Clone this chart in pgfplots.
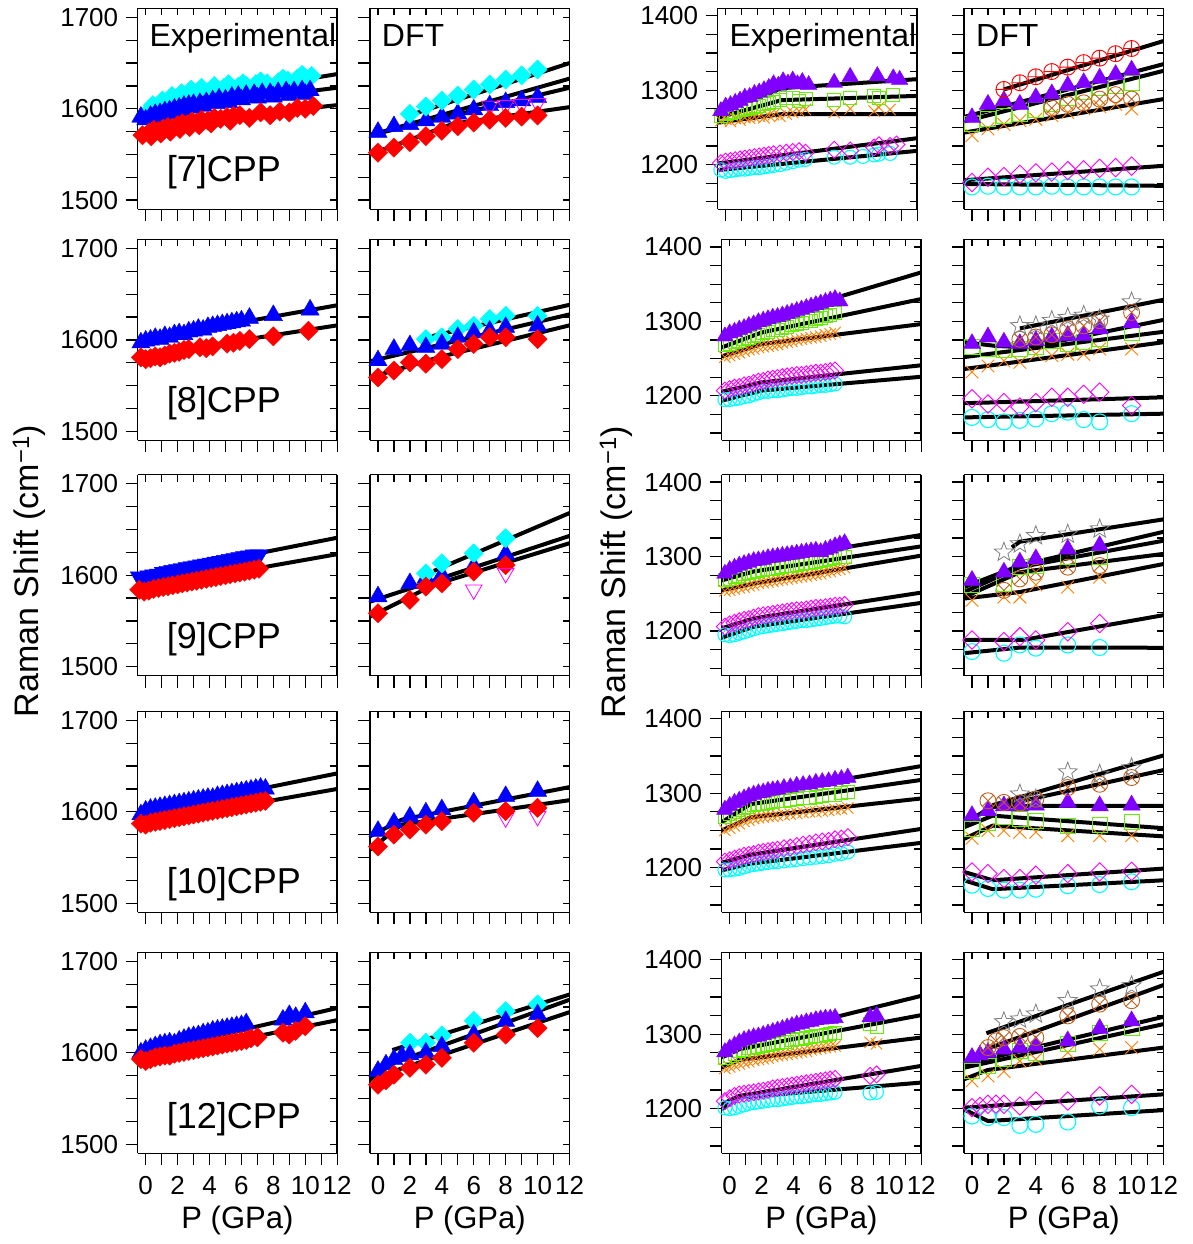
\documentclass[border=0pt]{standalone}
\usepackage{fontspec}
\setmainfont{Liberation Sans}
\usepackage{pgfplots}
\pgfplotsset{compat=1.18}
\usetikzlibrary{plotmarks}
\definecolor{cred}{RGB}{255,0,0}
\definecolor{cblue}{RGB}{0,0,255}
\definecolor{ccyan}{RGB}{0,255,255}
\definecolor{cmag}{RGB}{255,0,255}
\definecolor{cpur}{RGB}{128,0,255}
\definecolor{cgreen}{RGB}{100,240,0}
\definecolor{corange}{RGB}{255,128,0}
\definecolor{cbrown}{RGB}{192,96,32}
\definecolor{cgray}{RGB}{128,128,128}
\pgfdeclareplotmark{ostar}{%
  \pgfpathmoveto{\pgfpointpolar{90}{\pgfplotmarksize}}%
  \pgfpathlineto{\pgfpointpolar{126}{0.42\pgfplotmarksize}}%
  \pgfpathlineto{\pgfpointpolar{162}{\pgfplotmarksize}}%
  \pgfpathlineto{\pgfpointpolar{198}{0.42\pgfplotmarksize}}%
  \pgfpathlineto{\pgfpointpolar{234}{\pgfplotmarksize}}%
  \pgfpathlineto{\pgfpointpolar{270}{0.42\pgfplotmarksize}}%
  \pgfpathlineto{\pgfpointpolar{306}{\pgfplotmarksize}}%
  \pgfpathlineto{\pgfpointpolar{342}{0.42\pgfplotmarksize}}%
  \pgfpathlineto{\pgfpointpolar{18}{\pgfplotmarksize}}%
  \pgfpathlineto{\pgfpointpolar{54}{0.42\pgfplotmarksize}}%
  \pgfpathclose\pgfusepathqstroke}
\pgfplotsset{
  base/.style={scale only axis, width=199.5pt, height=201pt, anchor=south west,
    xmin=-0.5, xmax=12, axis line style={line width=1.5pt},
    tick style={black, line width=1.3pt},
    xtick={0,2,...,12}, minor xtick={1,3,...,11}},
  main/.style={base, axis x line*=bottom, axis y line*=left, tick align=outside,
    major tick length=12pt, minor tick length=12pt,
    xticklabels={}, yticklabels={},
    tick label style={font=\fontsize{26}{30}\selectfont},
    yticklabel style={xshift=-4pt}, xticklabel style={yshift=-8pt},
    /pgf/number format/assume math mode=true},
  mirrorax/.style={base, axis x line*=top, axis y line*=right, tick align=inside,
    major tick length=7pt, minor tick length=7pt, xticklabels={}, yticklabels={}},
  hi/.style={ymin=1490, ymax=1710, ytick={1500,1600,1700},
    minor ytick={1525,1550,1575,1625,1650,1675}},
  lo/.style={ymin=1140, ymax=1410, ytick={1200,1300,1400},
    minor ytick={1150,1175,1225,1250,1275,1325,1350,1375}},
  hiL/.style={hi, yticklabels={1500,1600,1700}},
  loL/.style={lo, yticklabels={1200,1300,1400}},
  bot/.style={xticklabels={0,2,4,6,8,10,12}, xlabel={P (GPa)},
    xlabel style={font=\fontsize{31}{36}\selectfont, at={(axis description cs:0.5,0)}, anchor=base, yshift=-75pt}},
  fit/.style={black, line width=4pt, line join=round, no markers},
  rD/.style={only marks, color=cred, mark=square*, mark size=6.8pt, mark options={rotate=45}},
  cD/.style={only marks, color=ccyan, mark=square*, mark size=6.8pt, mark options={rotate=45}},
  bT/.style={only marks, color=cblue, mark=triangle*, mark size=10.5pt},
  bV/.style={only marks, color=cblue, mark=triangle*, mark size=10.5pt, mark options={rotate=180}},
  mV/.style={only marks, color=cmag, mark=triangle, mark size=9.5pt, mark options={rotate=180, line width=0.8pt}},
  pT/.style={only marks, color=cpur, mark=triangle*, mark size=10pt},
  gS/.style={only marks, color=cgreen, mark=square, mark size=7.5pt, mark options={line width=0.9pt}},
  oX/.style={only marks, color=corange, mark=x, mark size=9pt, mark options={line width=0.9pt}},
  mD/.style={only marks, color=cmag, mark=square, mark size=6.5pt, mark options={rotate=45, line width=0.9pt}},
  cO/.style={only marks, color=ccyan, mark=o, mark size=8pt, mark options={line width=1.1pt}},
  rP/.style={only marks, color=cred, mark=oplus, mark size=8pt, mark options={line width=0.9pt}},
  bX/.style={only marks, color=cbrown, mark=otimes, mark size=8pt, mark options={line width=0.9pt}},
  sS/.style={only marks, color=cgray, mark=ostar, mark size=10pt, mark options={line width=0.8pt}},
  eP/.style={pT, mark size=9.5pt},
  eG/.style={gS, mark size=6.5pt},
  eX/.style={oX, mark size=8pt},
  eM/.style={mD, mark size=6pt},
  eC/.style={cO, mark size=7pt},
}
\newcommand{\mirror}[3]{\begin{axis}[mirrorax,#3,at={(#1,#2)}]\end{axis}}
\begin{document}
\begin{tikzpicture}
\useasboundingbox (0,0) rectangle (1193pt,1244pt);

% ================= ROW 1 : [7]CPP =================
\begin{axis}[main, hiL, at={(137.7pt,1034.7pt)}]
\addplot[cD] coordinates {(0.0,1594)(0.3,1598)(0.6,1601)(0.9,1603)(1.2,1606)(1.5,1608)(1.8,1611)(2.1,1612)(2.4,1614)(2.7,1616)(3.0,1617)(3.3,1619)(3.7,1618)(4.1,1621)(4.5,1620)(4.9,1623)(5.4,1622)(5.8,1624)(6.3,1625)(6.9,1627)(7.6,1628)(8.3,1629)(8.9,1631)(9.5,1633)(10.0,1634)(10.4,1636)};
\addplot[cD] coordinates {(0.45,1604)(1.05,1609)(1.65,1614)(2.25,1617)(2.85,1621)(3.5,1623)(4.3,1625)(5.2,1627)(6.1,1628)(7.2,1630)(8.6,1633)(9.8,1637)};
\addplot[bT] coordinates {(-0.3,1591)(0.0,1588)(0.3,1592)(0.6,1594)(0.9,1595)(1.2,1597)(1.5,1598)(1.8,1600)(2.1,1601)(2.4,1603)(2.7,1604)(3.0,1605)(3.4,1606)(3.8,1607)(4.2,1609)(4.6,1611)(5.0,1610)(5.4,1613)(5.8,1614)(6.3,1615)(6.8,1616)(7.3,1617)(7.8,1617)(8.3,1618)(8.8,1619)(9.3,1619)(9.8,1620)(10.3,1620)};
\addplot[bT] coordinates {(0.45,1590)(1.05,1593)(1.65,1595)(2.25,1598)(2.85,1601)(3.6,1603)(4.4,1606)(5.2,1607)(6.0,1610)(7.0,1612)(8.0,1613)(9.0,1615)(10.0,1616)};
\addplot[rD] coordinates {(-0.2,1571)(0.2,1574)(0.5,1577)(0.8,1576)(1.1,1578)(1.4,1580)(1.7,1579)(2.0,1582)(2.3,1584)(2.6,1583)(2.9,1586)(3.2,1585)(3.5,1588)(3.9,1587)(4.3,1590)(4.7,1589)(5.1,1591)(5.5,1592)(5.9,1593)(7.2,1596)(8.4,1597)(9.5,1601)(10.5,1603)};
\addplot[rD] coordinates {(0.35,1570)(0.95,1573)(1.55,1575)(2.15,1578)(2.75,1580)(3.35,1582)(4.1,1584)(5.3,1587)(6.5,1590)(7.8,1593)(9.0,1596)(10.0,1600)};
\addplot[fit] coordinates {(-0.5,1592)(3.4,1613)(12,1638)};
\addplot[fit] coordinates {(-0.5,1589)(3.5,1605)(12,1623)};
\addplot[fit] coordinates {(-0.5,1572)(3.5,1588)(12,1604)};
\end{axis}
\mirror{137.7pt}{1034.7pt}{hi}

\begin{axis}[main, hi, at={(370pt,1034.7pt)}]
\addplot[bT] coordinates {(0,1574.5)(1,1580.7)(2,1583)(3,1587)(4,1591)(5,1594.5)(6,1599)(7,1603.6)(8,1607)(9,1609)(10,1612.6)};
\addplot[cD] coordinates {(2,1594.5)(3,1602.5)(4,1609)(5,1614.5)(6,1621)(7,1626.6)(8,1632)(9,1636.6)(10,1643)};
\addplot[mV] coordinates {(7,1603)(8,1604)(9,1605)(10,1606)};
\addplot[rD] coordinates {(0,1552)(1,1557.5)(2,1563.6)(3,1570)(4,1576)(5,1581)(6,1585)(7,1588)(8,1590)(9,1591.5)(10,1592.7)};
\addplot[fit] coordinates {(2,1593)(12,1650)};
\addplot[fit] coordinates {(-0.5,1571)(12,1633)};
\addplot[fit] coordinates {(-0.5,1571)(12,1623)};
\addplot[fit] coordinates {(-0.5,1550)(4.7,1583.6)(12,1601.8)};
\end{axis}
\mirror{370pt}{1034.7pt}{hi}

\begin{axis}[main, loL, at={(717.7pt,1034.7pt)}]
\addplot[eC] coordinates {(-0.3,1193)(0.0,1191)(0.3,1192)(0.6,1193)(0.9,1194)(1.2,1194)(1.5,1195)(1.8,1196)(2.1,1196)(2.4,1197)(2.7,1198)(3.0,1199)(3.4,1200)(3.8,1202)(4.2,1204)(4.6,1206)(5.0,1207)(6.8,1210)(7.8,1210)(8.6,1211)(9.3,1213)(9.6,1214)(10.3,1215)};
\addplot[eM] coordinates {(-0.3,1202)(0.0,1204)(0.3,1205)(0.6,1206)(0.9,1207)(1.2,1208)(1.5,1209)(1.8,1210)(2.1,1211)(2.4,1212)(2.7,1213)(3.0,1214)(3.4,1215)(3.8,1216)(4.2,1217)(4.6,1218)(5.0,1216)(6.8,1220)(7.8,1219)(9.3,1223)(9.6,1226)(10.3,1225)(10.7,1227)};
\addplot[eX] coordinates {(-0.3,1259)(0.0,1261)(0.3,1258)(0.6,1262)(0.9,1260)(1.2,1263)(1.5,1262)(1.8,1264)(2.1,1265)(2.4,1263)(2.7,1266)(3.0,1267)(3.4,1265)(3.8,1268)(4.2,1270)(4.6,1272)(5.0,1274)(6.8,1270)(7.8,1275)(9.3,1272)(9.6,1277)(10.3,1274)};
\addplot[eG] coordinates {(-0.3,1266)(0.0,1268)(0.3,1270)(0.6,1271)(0.9,1273)(1.2,1275)(1.5,1276)(1.8,1278)(2.1,1279)(2.4,1281)(2.7,1283)(3.0,1284)(3.4,1287)(3.8,1289)(4.2,1290)(4.6,1286)(5.0,1288)(6.8,1287)(7.8,1290)(9.3,1292)(9.6,1289)(10.5,1293)};
\addplot[eP] coordinates {(-0.3,1272)(0.0,1278)(0.3,1280)(0.6,1283)(0.9,1286)(1.2,1290)(1.5,1291)(1.8,1295)(2.1,1297)(2.4,1300)(2.7,1303)(3.0,1308)(3.3,1306)(3.6,1312)(3.9,1309)(4.2,1313)(4.5,1308)(4.8,1311)(5.2,1307)(6.8,1310)(7.8,1318)(9.5,1319)(10.5,1316)(10.9,1314)};
\addplot[fit] coordinates {(-0.5,1270)(3.5,1302.7)(12,1314.8)};
\addplot[fit] coordinates {(-0.5,1263)(3.5,1286.6)(12,1292.3)};
\addplot[fit] coordinates {(-0.5,1256.5)(3.5,1267.8)(12,1267.8)};
\addplot[fit] coordinates {(-0.5,1201.5)(12,1235.5)};
\addplot[fit] coordinates {(-0.5,1192.6)(12,1218.5)};
\end{axis}
\mirror{717.7pt}{1034.7pt}{lo}

\begin{axis}[main, lo, at={(964pt,1034.7pt)}]
\addplot[cO] coordinates {(0,1170)(1,1171)(2,1170)(3,1170)(4,1170)(5,1171)(6,1170)(7,1170)(8,1170)(9,1170)(10,1170)};
\addplot[mD] coordinates {(0,1176)(1,1183)(2,1184)(3,1187)(4,1189)(5,1190)(6,1192)(7,1193)(8,1195)(9,1196)(10,1198)};
\addplot[oX] coordinates {(0,1239)(1,1248)(2,1254)(3,1259)(4,1261)(5,1266)(6,1270)(7,1275)(8,1278)(9,1281)(10,1275)};
\addplot[gS] coordinates {(0,1254)(1,1262)(2,1265)(3,1268)(4,1274)(5,1281)(6,1290)(7,1297)(8,1303)(9,1306)(10,1310)};
\addplot[bX] coordinates {(5,1276)(6,1281)(7,1283)(8,1288)(9,1294)(10,1288)};
\addplot[pT] coordinates {(0,1263)(1,1281)(2,1286)(3,1281)(4,1290)(5,1295)(6,1306)(7,1310)(8,1316)(9,1321)(10,1327)};
\addplot[rP] coordinates {(2,1301)(3,1310)(4,1318)(5,1325)(6,1331)(7,1337)(8,1343)(9,1349)(10,1356)};
\addplot[fit] coordinates {(2,1301)(12,1366)};
\addplot[fit] coordinates {(-0.5,1264)(12,1335)};
\addplot[fit] coordinates {(-0.5,1258)(12,1326)};
\addplot[fit] coordinates {(-0.5,1243)(12,1288)};
\addplot[fit] coordinates {(-0.5,1179)(12,1198.4)};
\addplot[fit] coordinates {(-0.5,1174)(12,1171.5)};
\end{axis}
\mirror{964pt}{1034.7pt}{lo}

% ================= ROW 2 : [8]CPP =================
\begin{axis}[main, hiL, at={(137.7pt,803.5pt)}]
\addplot[bT] coordinates {(-0.3,1597)(0.0,1599)(0.3,1600)(0.6,1602)(0.9,1601)(1.2,1604)(1.5,1603)(1.8,1606)(2.1,1607)(2.4,1606)(2.7,1609)(3.0,1610)(3.3,1612)(3.6,1611)(3.9,1614)(4.2,1615)(4.5,1616)(4.8,1617)(5.1,1618)(5.4,1619)(5.7,1620)(6.0,1621)(6.5,1624)(8.0,1627)(10.3,1633)};
\addplot[rD] coordinates {(-0.3,1581)(0.0,1579)(0.3,1580)(0.6,1582)(0.9,1581)(1.2,1583)(1.5,1585)(1.8,1586)(2.1,1587)(2.4,1589)(2.7,1590)(3.4,1592)(3.8,1591)(4.2,1593)(5.1,1596)(5.5,1597)(5.9,1599)(6.5,1601)(8.0,1604)(10.2,1610)};
\addplot[fit] coordinates {(-0.5,1595)(2,1607)(12,1638)};
\addplot[fit] coordinates {(-0.5,1581)(2,1589)(12,1616)};
\end{axis}
\mirror{137.7pt}{803.5pt}{hi}

\begin{axis}[main, hi, at={(370pt,803.5pt)}]
\addplot[cD] coordinates {(3,1601)(4,1603)(5,1612)(6,1615.6)(7,1623)(8,1626.5)(10,1626.5)};
\addplot[bT] coordinates {(0,1577.5)(1,1590)(2,1594)(3,1592)(4,1595.6)(5,1603)(6,1608)(7,1610)(8,1614)(10,1615.5)};
\addplot[rD] coordinates {(0,1559)(1,1566.5)(2,1575.6)(3,1574)(4,1579)(5,1590)(6,1595.6)(7,1603)(8,1603)(10,1601)};
\addplot[fit] coordinates {(-0.5,1576.7)(12,1628)};
\addplot[fit] coordinates {(3,1599)(3.5,1604.7)(12,1638.5)};
\addplot[fit] coordinates {(-0.5,1559)(4,1582)(12,1616)};
\end{axis}
\mirror{370pt}{803.5pt}{hi}

\begin{axis}[main, loL, at={(721.7pt,803.5pt)}]
\addplot[eC] coordinates {(-0.3,1195)(0.0,1195)(0.3,1196)(0.6,1197)(0.9,1199)(1.2,1200)(1.5,1202)(1.8,1204)(2.1,1206)(2.4,1206)(2.7,1207)(3.0,1207)(3.3,1208)(3.6,1209)(3.9,1210)(4.2,1210)(4.5,1211)(4.8,1212)(5.1,1212)(5.4,1213)(5.7,1214)(6.0,1214)(6.3,1215)(6.6,1216)};
\addplot[eM] coordinates {(-0.3,1207)(0.0,1209)(0.3,1211)(0.6,1212)(0.9,1214)(1.2,1215)(1.5,1217)(1.8,1219)(2.1,1220)(2.4,1222)(2.7,1223)(3.0,1224)(3.3,1225)(3.6,1226)(3.9,1227)(4.2,1228)(4.5,1228)(4.8,1229)(5.1,1230)(5.4,1231)(5.7,1231)(6.0,1232)(6.3,1233)(6.6,1234)};
\addplot[eX] coordinates {(-0.3,1252)(0.0,1254)(0.3,1256)(0.6,1258)(0.9,1260)(1.2,1262)(1.5,1263)(1.8,1265)(2.1,1266)(2.4,1267)(2.7,1268)(3.0,1269)(3.3,1271)(3.6,1272)(3.9,1273)(4.2,1275)(4.5,1276)(4.8,1277)(5.1,1278)(5.4,1279)(5.7,1280)(6.0,1282)(6.3,1283)(6.6,1285)};
\addplot[eG] coordinates {(-0.3,1268)(0.0,1270)(0.3,1272)(0.6,1274)(0.9,1276)(1.2,1278)(1.5,1280)(1.8,1282)(2.1,1284)(2.4,1286)(2.7,1288)(3.0,1289)(3.3,1291)(3.6,1293)(3.9,1295)(4.2,1296)(4.5,1298)(4.8,1300)(5.1,1301)(5.4,1303)(5.7,1305)(6.0,1307)(6.3,1309)(6.6,1311)};
\addplot[eP] coordinates {(-0.3,1280)(0.0,1284)(0.3,1286)(0.6,1289)(0.9,1291)(1.2,1294)(1.5,1296)(1.8,1299)(2.1,1301)(2.4,1303)(2.7,1305)(3.0,1306)(3.3,1308)(3.6,1310)(3.9,1312)(4.2,1314)(4.5,1316)(4.8,1318)(5.1,1320)(5.4,1322)(5.7,1324)(6.0,1326)(6.3,1328)(6.6,1330)(6.9,1327)};
\addplot[fit] coordinates {(-0.5,1277)(2,1302)(12,1365.8)};
\addplot[fit] coordinates {(-0.5,1265)(2,1285)(12,1330)};
\addplot[fit] coordinates {(-0.5,1253)(2,1269.5)(12,1296.4)};
\addplot[fit] coordinates {(-0.5,1205.5)(2,1218)(12,1241)};
\addplot[fit] coordinates {(-0.5,1193.5)(2,1207)(12,1225.6)};
\end{axis}
\mirror{721.7pt}{803.5pt}{lo}

\begin{axis}[main, lo, at={(964pt,803.5pt)}]
\addplot[cO] coordinates {(0,1171)(1,1168)(2,1165)(3,1167)(4,1169)(5,1176)(6,1178)(7,1168)(8,1165)(10,1176)};
\addplot[mD] coordinates {(0,1196)(1,1189)(2,1191)(3,1185)(4,1191)(5,1198)(6,1198)(7,1202)(8,1205)(10,1187)};
\addplot[oX] coordinates {(0,1232)(1,1240)(2,1247)(3,1245)(4,1256)(5,1254)(6,1256)(7,1256)(8,1263)(10,1263)};
\addplot[gS] coordinates {(0,1265)(1,1263)(2,1262)(3,1263)(4,1266)(5,1274)(6,1270)(7,1272)(8,1276)(10,1284)};
\addplot[pT] coordinates {(0,1270)(1,1279)(2,1272)(3,1270)(4,1274)(5,1279)(6,1281)(7,1281)(8,1290)(10,1298)};
\addplot[bX] coordinates {(3,1276)(4,1279)(5,1282)(6,1290)(7,1294)(8,1301)(10,1312)};
\addplot[sS] coordinates {(3,1294)(4,1294)(5,1301)(6,1305)(7,1308)(8,1303)(10,1326)};
\addplot[fit] coordinates {(3,1290.6)(12,1329)};
\addplot[fit] coordinates {(-0.5,1272)(1.5,1267)(3.5,1265)(12,1302)};
\addplot[fit] coordinates {(-0.5,1252)(12,1286)};
\addplot[fit] coordinates {(-0.5,1236)(12,1272)};
\addplot[fit] coordinates {(-0.5,1190)(12,1198)};
\addplot[fit] coordinates {(-0.5,1171)(12,1176)};
\end{axis}
\mirror{964pt}{803.5pt}{lo}

% ================= ROW 3 : [9]CPP =================
\begin{axis}[main, hiL, at={(137.7pt,568.3pt)}]
\addplot[bV] coordinates {(-0.4,1598)(-0.1,1597)(0.2,1599)(0.5,1600)(0.8,1601)(1.1,1603)(1.4,1604)(1.7,1605)(2.0,1606)(2.3,1607)(2.6,1608)(2.9,1609)(3.2,1610)(3.5,1611)(3.8,1612)(4.1,1613)(4.4,1614)(4.7,1615)(5.0,1616)(5.3,1617)(5.6,1618)(5.9,1619)(6.2,1620)(6.5,1621)(6.8,1622)(7.1,1622)};
\addplot[rD] coordinates {(-0.4,1584)(-0.1,1582)(0.2,1583)(0.5,1585)(0.8,1586)(1.1,1587)(1.4,1588)(1.7,1589)(2.0,1590)(2.3,1591)(2.6,1592)(2.9,1593)(3.2,1594)(3.5,1595)(3.8,1596)(4.1,1597)(4.4,1598)(4.7,1599)(5.0,1600)(5.3,1601)(5.6,1602)(5.9,1603)(6.2,1604)(6.5,1605)(6.8,1606)(7.1,1607)};
\addplot[fit] coordinates {(-0.5,1595)(1,1603)(12,1641)};
\addplot[fit] coordinates {(-0.5,1585.7)(1,1589)(12,1623)};
\end{axis}
\mirror{137.7pt}{568.3pt}{hi}

\begin{axis}[main, hi, at={(370pt,568.3pt)}]
\addplot[bT] coordinates {(0,1576.6)(2,1591)(3,1596.7)(4,1600)(6,1609.5)(8,1623)};
\addplot[cD] coordinates {(3,1602)(4,1613)(6,1624)(8,1640.5)};
\addplot[rD] coordinates {(0,1558.4)(2,1573)(3,1587.5)(4,1591)(6,1604)(8,1611)};
\addplot[mV] coordinates {(6,1584)(8,1602)};
\addplot[fit] coordinates {(3.5,1604.7)(12,1668)};
\addplot[fit] coordinates {(-0.5,1571)(12,1643)};
\addplot[fit] coordinates {(-0.5,1554.7)(3.5,1589.4)(12,1635)};
\end{axis}
\mirror{370pt}{568.3pt}{hi}

\begin{axis}[main, loL, at={(721.7pt,568.3pt)}]
\addplot[eC] coordinates {(-0.3,1195)(0.0,1194)(0.3,1195)(0.6,1197)(0.9,1199)(1.2,1201)(1.5,1203)(1.8,1205)(2.1,1206)(2.4,1207)(2.7,1208)(3.0,1209)(3.3,1210)(3.6,1211)(3.9,1212)(4.2,1213)(4.5,1214)(4.8,1214)(5.1,1215)(5.4,1216)(5.7,1217)(6.0,1218)(6.3,1219)(6.6,1220)(6.9,1220)(7.2,1219)};
\addplot[eM] coordinates {(-0.3,1206)(0.0,1209)(0.3,1211)(0.6,1213)(0.9,1215)(1.2,1216)(1.5,1218)(1.8,1220)(2.1,1221)(2.4,1222)(2.7,1223)(3.0,1224)(3.3,1225)(3.6,1226)(3.9,1227)(4.2,1228)(4.5,1228)(4.8,1229)(5.1,1230)(5.4,1231)(5.7,1231)(6.0,1232)(6.3,1233)(6.6,1234)(6.9,1234)(7.2,1235)};
\addplot[eX] coordinates {(-0.3,1254)(0.0,1255)(0.3,1256)(0.6,1258)(0.9,1259)(1.2,1261)(1.5,1262)(1.8,1264)(2.1,1265)(2.4,1266)(2.7,1267)(3.0,1268)(3.3,1269)(3.6,1270)(3.9,1271)(4.2,1272)(4.5,1273)(4.8,1274)(5.1,1275)(5.4,1276)(5.7,1277)(6.0,1279)(6.3,1280)(6.6,1282)(6.9,1283)(7.2,1285)};
\addplot[eG] coordinates {(-0.3,1268)(0.0,1270)(0.3,1272)(0.6,1274)(0.9,1276)(1.2,1278)(1.5,1280)(1.8,1281)(2.1,1282)(2.4,1283)(2.7,1284)(3.0,1285)(3.3,1286)(3.6,1287)(3.9,1288)(4.2,1289)(4.5,1290)(4.8,1291)(5.1,1292)(5.4,1293)(5.7,1294)(6.0,1296)(6.3,1297)(6.6,1298)(6.9,1299)(7.2,1300)};
\addplot[eP] coordinates {(-0.3,1277)(0.0,1282)(0.3,1285)(0.6,1288)(0.9,1290)(1.2,1292)(1.5,1294)(1.8,1295)(2.1,1296)(2.4,1298)(2.7,1299)(3.0,1300)(3.3,1301)(3.6,1302)(3.9,1303)(4.2,1304)(4.5,1305)(4.8,1306)(5.1,1307)(5.4,1308)(5.7,1306)(6.0,1309)(6.3,1311)(6.6,1314)(6.9,1316)(7.2,1318)};
\addplot[fit] coordinates {(-0.5,1272.4)(1.5,1292.4)(12,1329)};
\addplot[fit] coordinates {(-0.5,1268)(1.5,1280)(12,1313.7)};
\addplot[fit] coordinates {(-0.5,1254.7)(1.5,1263.6)(12,1301.3)};
\addplot[fit] coordinates {(-0.5,1203.6)(1.5,1217)(12,1251.6)};
\addplot[fit] coordinates {(-0.5,1191)(1.5,1205.7)(12,1237.8)};
\end{axis}
\mirror{721.7pt}{568.3pt}{lo}

\begin{axis}[main, lo, at={(964pt,568.3pt)}]
\addplot[cO] coordinates {(0,1172.4)(2,1170.2)(3,1181.3)(4,1177)(6,1181.3)(8,1177.8)};
\addplot[mD] coordinates {(0,1188)(2,1185.8)(3,1192.4)(4,1188)(6,1199)(8,1210)};
\addplot[oX] coordinates {(0,1241.3)(2,1245.7)(3,1245.7)(4,1262)(6,1259)(8,1272.4)};
\addplot[bX] coordinates {(2,1254.7)(3,1270)(4,1279)(6,1285.8)(8,1288)};
\addplot[gS] coordinates {(0,1262)(2,1263.6)(3,1285.8)(4,1288)(6,1299)(8,1299)};
\addplot[pT] coordinates {(0,1268)(2,1279)(3,1292.4)(4,1297)(6,1310)(8,1314.7)};
\addplot[sS] coordinates {(2,1305.8)(3,1317)(4,1328)(6,1330)(8,1337)};
\addplot[fit] coordinates {(2.5,1312.4)(3,1320)(12,1350)};
\addplot[fit] coordinates {(-0.5,1259)(3,1288)(12,1333.3)};
\addplot[fit] coordinates {(-0.5,1252.4)(3,1285.8)(12,1321.3)};
\addplot[fit] coordinates {(-0.5,1245.7)(3,1279)(12,1303.6)};
\addplot[fit] coordinates {(-0.5,1243.6)(3,1252.4)(12,1290)};
\addplot[fit] coordinates {(-0.5,1188)(3.2,1188)(12,1221.3)};
\addplot[fit] coordinates {(-0.5,1170.2)(3,1177.8)(12,1177.5)};
\end{axis}
\mirror{964pt}{568.3pt}{lo}

% ================= ROW 4 : [10]CPP =================
\begin{axis}[main, hiL, at={(137.7pt,331.7pt)}]
\addplot[bT] coordinates {(-0.3,1597)(0.0,1601)(0.3,1603)(0.6,1604)(0.9,1605)(1.2,1606)(1.5,1607)(1.8,1608)(2.1,1609)(2.4,1610)(2.7,1611)(3.0,1612)(3.3,1613)(3.6,1614)(3.9,1615)(4.2,1615)(4.5,1617)(4.8,1618)(5.1,1619)(5.4,1620)(5.7,1621)(6.0,1622)(6.3,1623)(6.6,1624)(6.9,1625)(7.2,1626)(7.5,1625)};
\addplot[rD] coordinates {(-0.3,1587)(0.0,1586)(0.3,1588)(0.6,1589)(0.9,1590)(1.2,1591)(1.5,1592)(1.8,1593)(2.1,1594)(2.4,1595)(2.7,1596)(3.0,1597)(3.3,1598)(3.6,1599)(3.9,1600)(4.2,1601)(4.5,1602)(4.8,1603)(5.1,1604)(5.4,1605)(5.7,1606)(6.0,1607)(6.3,1608)(6.6,1609)(6.9,1610)(7.2,1611)(7.5,1612)};
\addplot[fit] coordinates {(-0.5,1593.4)(1,1603.3)(12,1642)};
\addplot[fit] coordinates {(-0.5,1586)(1,1591)(12,1625)};
\end{axis}
\mirror{137.7pt}{331.7pt}{hi}

\begin{axis}[main, hi, at={(370pt,331.7pt)}]
\addplot[bT] coordinates {(0,1578.8)(1,1588)(2,1594.5)(3,1599)(4,1602.5)(6,1610)(8,1617)(10,1622.6)};
\addplot[mV] coordinates {(8,1593.4)(10,1595)};
\addplot[rD] coordinates {(0,1562)(1,1575)(2,1580.6)(3,1586)(4,1589.7)(6,1599)(8,1600.7)(10,1604.4)};
\addplot[fit] coordinates {(-0.5,1573.3)(1.5,1591.5)(12,1627)};
\addplot[fit] coordinates {(-0.5,1558.7)(1.5,1586)(12,1612.7)};
\end{axis}
\mirror{370pt}{331.7pt}{hi}

\begin{axis}[main, loL, at={(721.7pt,331.7pt)}]
\addplot[eC] coordinates {(-0.3,1197)(0.0,1197)(0.3,1198)(0.6,1199)(0.9,1201)(1.2,1203)(1.5,1204)(1.8,1205)(2.1,1206)(2.4,1207)(2.7,1208)(3.0,1208)(3.4,1209)(3.8,1210)(4.2,1211)(4.6,1212)(5.0,1213)(5.4,1214)(5.8,1215)(6.2,1216)(6.6,1218)(7.0,1219)(7.4,1221)};
\addplot[eM] coordinates {(-0.3,1208)(0.0,1210)(0.3,1212)(0.6,1214)(0.9,1216)(1.2,1217)(1.5,1218)(1.8,1220)(2.1,1221)(2.4,1222)(2.7,1223)(3.0,1224)(3.4,1226)(3.8,1227)(4.2,1229)(4.6,1231)(5.0,1232)(5.4,1234)(5.8,1235)(6.2,1236)(6.6,1238)(7.0,1239)(7.4,1241)};
\addplot[eX] coordinates {(-0.3,1250)(0.0,1253)(0.3,1256)(0.6,1259)(0.9,1262)(1.2,1264)(1.5,1266)(1.8,1267)(2.1,1268)(2.4,1269)(2.7,1269)(3.0,1270)(3.4,1271)(3.8,1272)(4.2,1273)(4.6,1274)(5.0,1275)(5.4,1275)(5.8,1276)(6.2,1277)(6.6,1278)(7.0,1279)(7.4,1280)};
\addplot[eG] coordinates {(-0.3,1268)(0.0,1272)(0.3,1275)(0.6,1278)(0.9,1280)(1.2,1282)(1.5,1284)(1.8,1285)(2.1,1286)(2.4,1287)(2.7,1288)(3.0,1289)(3.4,1290)(3.8,1291)(4.2,1292)(4.6,1293)(5.0,1294)(5.4,1295)(5.8,1296)(6.2,1297)(6.6,1298)(7.0,1300)(7.4,1302)};
\addplot[eP] coordinates {(-0.3,1278)(0.0,1283)(0.3,1287)(0.6,1290)(0.9,1293)(1.2,1296)(1.5,1298)(1.8,1300)(2.1,1301)(2.4,1303)(2.7,1304)(3.0,1305)(3.4,1307)(3.8,1308)(4.2,1310)(4.6,1311)(5.0,1312)(5.4,1314)(5.8,1315)(6.2,1316)(6.6,1318)(7.0,1319)(7.4,1321)};
\addplot[fit] coordinates {(-0.5,1274)(1.3,1297.3)(12,1336.4)};
\addplot[fit] coordinates {(-0.5,1261)(1.3,1285.3)(12,1317.8)};
\addplot[fit] coordinates {(-0.5,1249.8)(1.3,1267.6)(12,1292.9)};
\addplot[fit] coordinates {(-0.5,1206.7)(1.3,1217.3)(12,1252)};
\addplot[fit] coordinates {(-0.5,1196.4)(1.3,1205.3)(12,1233.3)};
\end{axis}
\mirror{721.7pt}{331.7pt}{lo}

\begin{axis}[main, lo, at={(964pt,331.7pt)}]
\addplot[cO] coordinates {(0,1176.4)(1,1172)(2,1169.8)(3,1169.8)(4,1171)(6,1175.6)(8,1177.3)(10,1181)};
\addplot[mD] coordinates {(0,1194.2)(1,1192)(2,1185.3)(3,1185.3)(4,1189.8)(6,1192)(8,1194.2)(10,1195)};
\addplot[oX] coordinates {(0,1239.6)(1,1249.8)(2,1249.8)(3,1247.6)(4,1247.6)(6,1243)(8,1243)(10,1243)};
\addplot[gS] coordinates {(0,1252)(1,1260)(2,1267.6)(3,1265.3)(4,1263)(6,1256.4)(8,1257.3)(10,1261)};
\addplot[pT] coordinates {(0,1269.8)(1,1276.4)(2,1283)(3,1283)(4,1284)(6,1287.6)(8,1283)(10,1284)};
\addplot[bX] coordinates {(1,1289.8)(2,1287.6)(3,1287)(4,1292)(6,1307.6)(8,1312)(10,1321)};
\addplot[sS] coordinates {(3,1298.7)(4,1292)(6,1328.4)(8,1325.3)(10,1334)};
\addplot[fit] coordinates {(1.3,1284)(12,1350.7)};
\addplot[fit] coordinates {(1.3,1281)(12,1331)};
\addplot[fit] coordinates {(-0.5,1258.7)(1.3,1283)(12,1283)};
\addplot[fit] coordinates {(-0.5,1254.2)(1.3,1269.8)(12,1253)};
\addplot[fit] coordinates {(-0.5,1238.7)(1.3,1256.4)(12,1242)};
\addplot[fit] coordinates {(-0.5,1194.2)(1.3,1183)(12,1198.7)};
\addplot[fit] coordinates {(-0.5,1183)(1.3,1171)(12,1183)};
\end{axis}
\mirror{964pt}{331.7pt}{lo}

% ================= ROW 5 : [12]CPP =================
\begin{axis}[main, hiL, bot, at={(137.7pt,90.7pt)}]
\addplot[bT] coordinates {(-0.3,1600)(0.0,1603)(0.3,1605)(0.6,1607)(0.9,1609)(1.2,1610)(1.5,1611)(1.8,1610)(2.1,1613)(2.4,1615)(2.7,1617)(3.0,1618)(3.3,1619)(3.6,1621)(3.9,1622)(4.2,1624)(4.5,1625)(4.8,1626)(5.1,1627)(5.4,1628)(5.7,1629)(6.0,1630)(6.3,1632)(8.6,1636)(9.0,1641)(9.4,1639)(10.0,1644)};
\addplot[rD] coordinates {(-0.3,1593)(0.0,1591)(0.3,1593)(0.6,1595)(0.9,1596)(1.2,1597)(1.5,1597)(1.8,1599)(2.1,1600)(2.4,1601)(2.7,1602)(3.0,1603)(3.3,1604)(3.6,1605)(3.9,1606)(4.2,1607)(4.5,1608)(4.8,1609)(5.1,1610)(5.4,1611)(5.7,1612)(6.0,1613)(6.3,1614)(6.6,1616)(7.0,1617)(8.6,1622)(9.0,1620)(9.4,1624)(10.0,1629)};
\addplot[fit] coordinates {(-0.5,1593.4)(0.7,1603.6)(12,1649)};
\addplot[fit] coordinates {(-0.5,1588.3)(0.7,1596.3)(12,1635.7)};
\end{axis}
\mirror{137.7pt}{90.7pt}{hi}

\begin{axis}[main, hi, bot, at={(370pt,90.7pt)}]
\addplot[cD] coordinates {(2,1611)(3,1611)(4,1619)(6,1635)(8,1645.5)(10,1653)};
\addplot[bT] coordinates {(0,1580)(0.5,1587)(1,1592.7)(1.5,1596.3)(2,1598)(3,1600)(4,1607)(6,1620)(8,1634.6)(10,1642)};
\addplot[rD] coordinates {(0,1565)(0.5,1570)(1,1576)(2,1583.6)(3,1587)(4,1594.5)(6,1611)(8,1620)(10,1627)};
\addplot[fit] coordinates {(0.9,1603)(12,1663.8)};
\addplot[fit] coordinates {(-0.5,1570.8)(1,1589)(12,1658)};
\addplot[fit] coordinates {(-0.5,1563.5)(1,1580)(12,1644.5)};
\end{axis}
\mirror{370pt}{90.7pt}{hi}

\begin{axis}[main, loL, bot, at={(721.7pt,90.7pt)}]
\addplot[eC] coordinates {(-0.3,1201)(0.0,1200)(0.3,1201)(0.6,1203)(0.9,1205)(1.2,1207)(1.5,1208)(1.8,1209)(2.1,1210)(2.4,1211)(2.7,1212)(3.0,1212)(3.3,1213)(3.6,1214)(3.9,1215)(4.2,1216)(4.5,1216)(4.8,1217)(5.1,1218)(5.4,1219)(5.7,1219)(6.0,1220)(6.3,1221)(6.6,1222)(8.8,1221)(9.2,1222)};
\addplot[eM] coordinates {(-0.3,1210)(0.0,1214)(0.3,1217)(0.6,1219)(0.9,1220)(1.2,1221)(1.5,1222)(1.8,1223)(2.1,1224)(2.4,1225)(2.7,1227)(3.0,1228)(3.3,1229)(3.6,1230)(3.9,1231)(4.2,1232)(4.5,1233)(4.8,1234)(5.1,1235)(5.4,1236)(5.7,1237)(6.0,1238)(6.3,1239)(6.6,1240)(8.8,1244)(9.2,1246)};
\addplot[eX] coordinates {(-0.3,1254)(0.0,1256)(0.3,1258)(0.6,1260)(0.9,1262)(1.2,1263)(1.5,1265)(1.8,1266)(2.1,1267)(2.4,1268)(2.7,1270)(3.0,1271)(3.3,1272)(3.6,1273)(3.9,1274)(4.2,1275)(4.5,1276)(4.8,1277)(5.1,1279)(5.4,1280)(5.7,1281)(6.0,1282)(6.3,1283)(6.6,1284)(8.8,1289)(9.2,1287)};
\addplot[eG] coordinates {(-0.3,1268)(0.0,1271)(0.3,1274)(0.6,1277)(0.9,1279)(1.2,1281)(1.5,1282)(1.8,1283)(2.1,1284)(2.4,1286)(2.7,1287)(3.0,1288)(3.3,1289)(3.6,1290)(3.9,1292)(4.2,1293)(4.5,1294)(4.8,1295)(5.1,1296)(5.4,1297)(5.7,1298)(6.0,1299)(6.3,1300)(6.6,1301)(8.8,1314)(9.2,1310)};
\addplot[eP] coordinates {(-0.3,1276)(0.0,1281)(0.3,1285)(0.6,1289)(0.9,1292)(1.2,1294)(1.5,1296)(1.8,1297)(2.1,1299)(2.4,1301)(2.7,1303)(3.0,1305)(3.3,1307)(3.6,1309)(3.9,1311)(4.2,1313)(4.5,1314)(4.8,1316)(5.1,1317)(5.4,1319)(5.7,1320)(6.0,1321)(6.3,1321)(6.6,1322)(8.8,1323)(9.2,1325)};
\addplot[fit] coordinates {(-0.5,1273)(0.6,1291)(12,1351.5)};
\addplot[fit] coordinates {(-0.5,1268.6)(0.6,1279.8)(12,1325.6)};
\addplot[fit] coordinates {(-0.5,1255.2)(0.6,1265.4)(12,1295.5)};
\addplot[fit] coordinates {(-0.5,1205.8)(0.6,1217)(12,1257.4)};
\addplot[fit] coordinates {(-0.5,1199)(0.6,1214.8)(12,1235)};
\end{axis}
\mirror{721.7pt}{90.7pt}{lo}

\begin{axis}[main, lo, bot, at={(964pt,90.7pt)}]
\addplot[cO] coordinates {(0,1190)(1,1188)(2,1188)(3,1177.5)(4,1178.9)(6,1182)(8,1203.5)(10,1201.3)};
\addplot[mD] coordinates {(0,1201.3)(0.5,1203)(1,1205.8)(1.5,1206)(2,1205.8)(3,1203.5)(4,1210.2)(6,1210.2)(8,1217)(10,1219.2)};
\addplot[oX] coordinates {(0,1237.2)(1,1244)(2,1250)(3,1264)(4,1266.4)(6,1275.4)(8,1279.8)(10,1282)};
\addplot[gS] coordinates {(0,1250.6)(1,1258)(2,1266.4)(3,1277.5)(4,1275.4)(6,1286.5)(8,1302.2)(10,1309)};
\addplot[pT] coordinates {(0,1268.6)(0.5,1272)(1,1275.4)(2,1279.8)(3,1282)(4,1284.3)(6,1291)(8,1307.6)(10,1317.9)};
\addplot[bX] coordinates {(1,1282)(1.5,1291)(2,1295.5)(3,1297)(4,1295.5)(6,1324.6)(8,1340.4)(10,1345)};
\addplot[sS] coordinates {(2,1316.6)(3,1320.2)(4,1327)(6,1345)(8,1360.6)(10,1365)};
\addplot[fit] coordinates {(0.9,1301.3)(12,1383.8)};
\addplot[fit] coordinates {(0.9,1279.8)(12,1366)};
\addplot[fit] coordinates {(-0.5,1259.6)(12,1323.4)};
\addplot[fit] coordinates {(-0.5,1255)(12,1313.5)};
\addplot[fit] coordinates {(-0.5,1239.4)(1,1252)(12,1282)};
\addplot[fit] coordinates {(-0.5,1201.3)(12,1219.2)};
\addplot[fit] coordinates {(-0.5,1199)(1,1183.3)(12,1198)};
\end{axis}
\mirror{964pt}{90.7pt}{lo}

% ================= TEXT =================
\begin{scope}[every node/.style={inner sep=0pt}]
\node[anchor=base west, font=\fontsize{32}{36}\selectfont] at (149.3pt,1197.3pt) {Experimental};
\node[anchor=base west, font=\fontsize{32}{36}\selectfont] at (381.7pt,1197.3pt) {DFT};
\node[anchor=base west, font=\fontsize{32}{36}\selectfont] at (729.3pt,1197.3pt) {Experimental};
\node[anchor=base west, font=\fontsize{32}{36}\selectfont] at (976pt,1197.3pt) {DFT};
\node[anchor=base west, font=\fontsize{36}{40}\selectfont] at (166.7pt,1062.3pt) {[7]CPP};
\node[anchor=base west, font=\fontsize{36}{40}\selectfont] at (166.7pt,831.3pt) {[8]CPP};
\node[anchor=base west, font=\fontsize{36}{40}\selectfont] at (166.7pt,595.7pt) {[9]CPP};
\node[anchor=base west, font=\fontsize{36}{40}\selectfont] at (166.7pt,350.7pt) {[10]CPP};
\node[anchor=base west, font=\fontsize{36}{40}\selectfont] at (166.7pt,115.7pt) {[12]CPP};
\node[rotate=90, font=\fontsize{34}{38}\selectfont] at (29pt,673pt) {Raman Shift (cm\textsuperscript{\char"2212 1})};
\node[rotate=90, font=\fontsize{34}{38}\selectfont] at (616pt,672pt) {Raman Shift (cm\textsuperscript{\char"2212 1})};
\end{scope}
\end{tikzpicture}
\end{document}
